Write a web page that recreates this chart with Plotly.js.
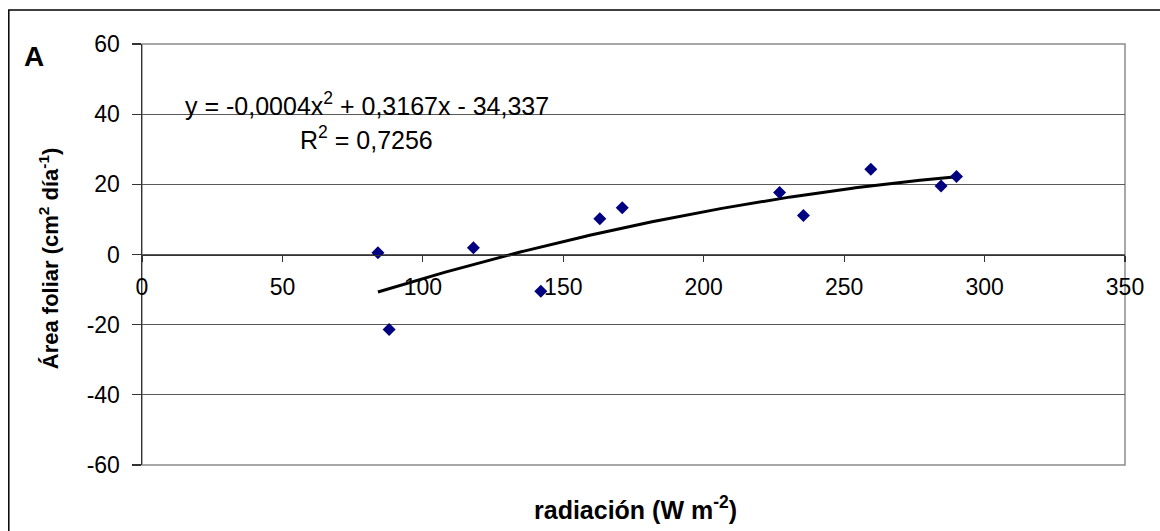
<!DOCTYPE html>
<html>
<head>
<meta charset="utf-8">
<script src="https://cdn.plot.ly/plotly-3.0.1.min.js"></script>
<style>
  html, body { margin: 0; padding: 0; background: #fff; }
  #chart { width: 1160px; height: 531px; }
</style>
</head>
<body>
<div id="chart"></div>
<script>
// Leaf-area growth against radiation: measured points and a quadratic trend.
const radiacion = [84, 88, 118, 142, 163, 171, 227, 235.5, 259.5, 284.5, 290];
const areaFoliar = [0.5, -21.4, 1.9, -10.5, 10.2, 13.3, 17.7, 11.1, 24.3, 19.5, 22.2];

// Quadratic trend y = a·x² + b·x + c and the x span it covers
const trendCoef = [-0.00042, 0.3167, -34.337];
const trendSpan = [84, 290];

const xTicks = [0, 50, 100, 150, 200, 250, 300, 350];
const yTicks = [-60, -40, -20, 0, 20, 40, 60];

const eqLine = 'y = -0,0004x<sup>2</sup> + 0,3167x - 34,337';
const r2Line = 'R<sup>2</sup> = 0,7256';
const xTitle = '<b>radiación (W m<sup>-2</sup>)</b>';
const yTitle = '<b>Área foliar (cm<sup>2</sup> día<sup>-1</sup>)</b>';
const panelLabel = '<b>A</b>';

const trendX = [];
const trendY = [];
for (let x = trendSpan[0]; x <= trendSpan[1]; x += 1) {
  trendX.push(x);
  trendY.push(trendCoef[0] * x * x + trendCoef[1] * x + trendCoef[2]);
}

const FONT = '"Liberation Sans", Arial, sans-serif';

const traces = [
  {
    x: trendX, y: trendY, type: 'scatter', mode: 'lines',
    line: { color: '#000000', width: 3 },
    hoverinfo: 'skip'
  },
  {
    x: radiacion, y: areaFoliar, type: 'scatter', mode: 'markers',
    marker: { symbol: 'diamond', size: 10, color: '#000080', line: { width: 0 } }
  }
];

const layout = {
  width: 1160, height: 531,
  margin: { l: 142, r: 35, t: 44, b: 66, pad: 0 },
  paper_bgcolor: '#ffffff', plot_bgcolor: '#ffffff',
  showlegend: false,
  font: { family: FONT, color: '#000000' },
  xaxis: {
    range: [0, 350], tickvals: xTicks, ticktext: xTicks.map(String),
    anchor: 'free', position: 0.5,
    showline: true, linecolor: '#333333', linewidth: 1.5,
    ticks: 'outside', ticklen: 6, tickcolor: '#333333', tickwidth: 1.2,
    showgrid: false, zeroline: false,
    tickfont: { family: FONT, size: 23, color: '#000000' },
    ticklabelstandoff: 5
  },
  yaxis: {
    range: [-60, 60], tickvals: yTicks, ticktext: yTicks.map(String),
    showline: true, linecolor: '#333333', linewidth: 1.5,
    ticks: 'outside', ticklen: 9, tickcolor: '#333333', tickwidth: 1.2,
    showgrid: true, gridcolor: '#5a5a5a', gridwidth: 1,
    zeroline: false,
    tickfont: { family: FONT, size: 23, color: '#000000' },
    ticklabelstandoff: 7
  },
  shapes: [
    // plot-area frame
    { type: 'rect', xref: 'paper', yref: 'paper', x0: 0, x1: 1, y0: 0, y1: 1,
      line: { color: '#8c8c8c', width: 1.5 }, layer: 'below' },
    // chart border
    { type: 'rect', xref: 'paper', yref: 'paper', x0: -0.1355, x1: 1.2, y0: -0.3, y1: 1.0808,
      line: { color: '#000000', width: 1.5 } }
  ],
  annotations: [
    { text: panelLabel, xref: 'paper', yref: 'paper', x: -0.1094, y: 0.971,
      xanchor: 'center', yanchor: 'middle', showarrow: false,
      font: { family: FONT, size: 28, color: '#000000' } },
    { text: eqLine, xref: 'x', yref: 'y', x: 80, y: 43,
      xanchor: 'center', yanchor: 'middle', showarrow: false,
      font: { family: FONT, size: 25, color: '#000000' } },
    { text: r2Line, xref: 'x', yref: 'y', x: 80, y: 33.3,
      xanchor: 'center', yanchor: 'middle', showarrow: false,
      font: { family: FONT, size: 25, color: '#000000' } },
    { text: xTitle, xref: 'paper', yref: 'paper', x: 0.5016, y: -0.1014,
      xanchor: 'center', yanchor: 'middle', showarrow: false,
      font: { family: FONT, size: 25, color: '#000000' } },
    { text: yTitle, xref: 'paper', yref: 'paper', x: -0.0951, y: 0.49,
      xanchor: 'center', yanchor: 'middle', textangle: -90, showarrow: false,
      font: { family: FONT, size: 22, color: '#000000' } }
  ]
};

Plotly.newPlot('chart', traces, layout, { staticPlot: true, displayModeBar: false });
</script>
</body>
</html>
